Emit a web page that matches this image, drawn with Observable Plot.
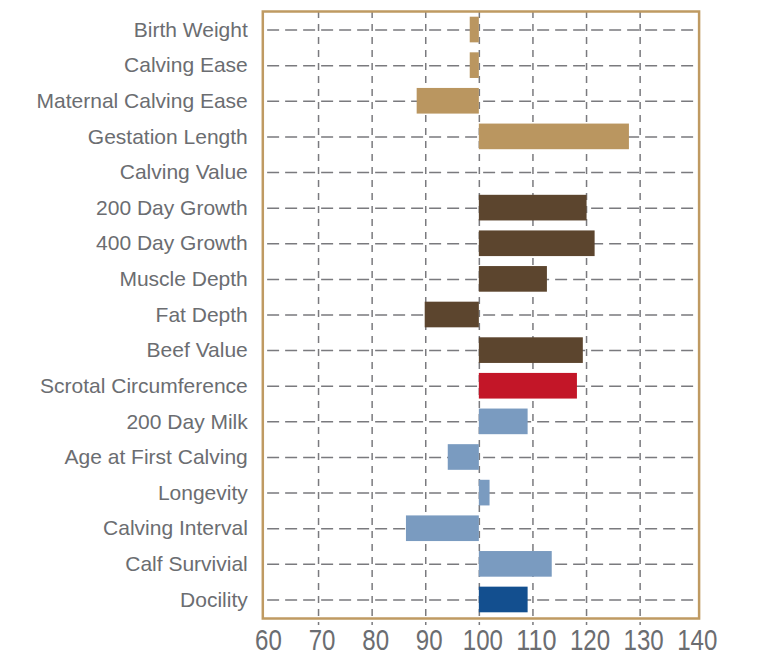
<!DOCTYPE html>
<html><head><meta charset="utf-8">
<script src="https://cdn.jsdelivr.net/npm/d3@7"></script>
<script src="https://cdn.jsdelivr.net/npm/@observablehq/plot@0.6"></script>
<style>
body{margin:0;background:#fff}
#chart svg{display:block}
</style>
</head><body><div id="chart"></div>
<script>
const traits = ["Birth Weight","Calving Ease","Maternal Calving Ease","Gestation Length","Calving Value",
  "200 Day Growth","400 Day Growth","Muscle Depth","Fat Depth","Beef Value",
  "Scrotal Circumference","200 Day Milk","Age at First Calving","Longevity","Calving Interval",
  "Calf Survivial","Docility"];
const values = [98.3, 98.3, 88.4, 128.0, 100,
  120.1, 121.6, 112.7, 89.9, 119.4,
  118.3, 109.1, 94.2, 102.0, 86.4,
  113.6, 109.1];
const groups = ["calving","calving","calving","calving","calving",
  "growth","growth","growth","growth","growth",
  "fertility","maternal","maternal","maternal","maternal",
  "maternal","temperament"];
const groupNames = ["calving","growth","fertility","maternal","temperament"];
const groupColors = ["#BA9660","#5C452E","#C31628","#7A9BC0","#134F8F"];
const xTicks = [60,70,80,90,100,110,120,130,140];
const gridX = [70,80,90,100,110,120,130];

const data = traits.map((t,i)=>({trait:t, value:values[i], group:groups[i]}));
const textColor = "#6b6d71";
const gridColor = "#7a7a7e";

const chart = Plot.plot({
  width: 764, height: 669,
  marginLeft: 262.3, marginRight: 65.4, marginTop: 11, marginBottom: 51,
  style: {fontFamily: "'Liberation Sans', Arial, sans-serif", background: "#fff"},
  x: {domain: [59.6, 141], label: null},
  y: {domain: traits, paddingInner: 0.28, paddingOuter: 0.16, round: false, label: null},
  color: {domain: groupNames, range: groupColors},
  marks: [
    Plot.ruleY(traits, {y: d=>d, x1: 60.5, x2: 140.6, stroke: gridColor, strokeWidth: 1.5, strokeDasharray: "12,6"}),
    Plot.ruleX(gridX, {x: d=>d, stroke: gridColor, strokeWidth: 1.5, strokeDasharray: "7,6", insetBottom: -7}),
    Plot.barX(data, {y: "trait", x1: 100, x2: "value", fill: "group"}),
    Plot.frame({stroke: "#BF9A62", strokeWidth: 2.5}),
    Plot.axisX(xTicks, {tickSize: 0, tickPadding: 10, dx: 3.5, fontSize: 30, fill: textColor, label: null}),
    Plot.axisY(traits, {tickSize: 0, tickPadding: 15, fontSize: 21, fill: textColor, label: null})
  ]
});
// condense the x tick labels to match the narrow face of the reference
chart.querySelectorAll('g[aria-label="x-axis tick label"] text').forEach(t => {
  const n = t.textContent.length;
  t.setAttribute("textLength", (13.4 * n).toFixed(1));
  t.setAttribute("lengthAdjust", "spacingAndGlyphs");
});
document.getElementById("chart").append(chart);
</script>
</body></html>
